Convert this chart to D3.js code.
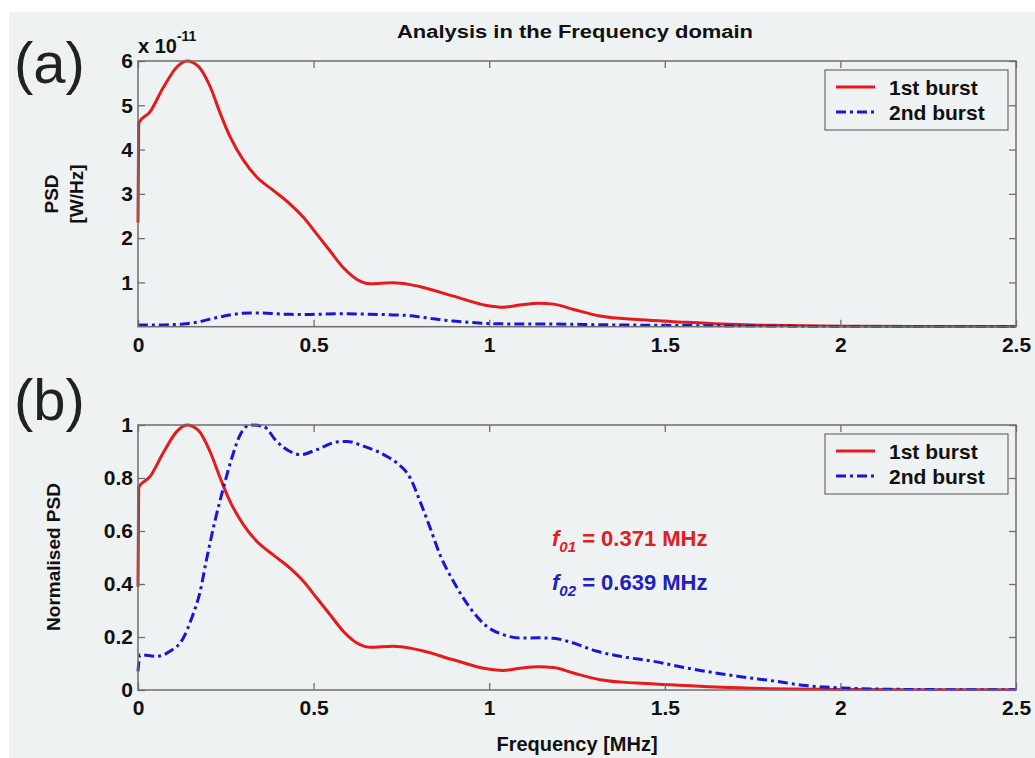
<!DOCTYPE html>
<html>
<head>
<meta charset="utf-8">
<script src="https://cdn.jsdelivr.net/npm/d3@7"></script>
<style>
  html, body { margin: 0; padding: 0; background: #ffffff; }
  svg { display: block; }
  text { font-family: "Liberation Sans", Arial, Helvetica, sans-serif; }
</style>
</head>
<body>
<svg id="chart" width="1035" height="758"></svg>
<script>
// ---------------- DATA ----------------
// Frequency axis [MHz]
const xTicks = [0, 0.5, 1, 1.5, 2, 2.5];
const yTicksA = [1, 2, 3, 4, 5, 6];           // x 10^-11 W/Hz
const yTicksB = [0, 0.2, 0.4, 0.6, 0.8, 1];
const yTickLabelsB = ["0", "0.2", "0.4", "0.6", "0.8", "1"];
const seriesNames = ["1st burst", "2nd burst"];

// 1st burst sample frequencies [MHz]
const freq1 = [0, 0.002, 0.034, 0.072, 0.11, 0.139, 0.172, 0.205, 0.234, 0.262, 0.30, 0.338,
  0.385, 0.433, 0.471, 0.509, 0.547, 0.585, 0.632, 0.661, 0.727, 0.775, 0.81, 0.898, 0.993,
  1.04, 1.088, 1.14, 1.183, 1.24, 1.316, 1.42, 1.516, 1.66, 1.8, 2.0, 2.2, 2.5];
// 1st burst PSD (panel a), units of 1e-11 W/Hz
const psd1 = [2.35, 4.6, 4.85, 5.4, 5.86, 6.0, 5.88, 5.43, 4.82, 4.29, 3.76, 3.38,
  3.08, 2.77, 2.47, 2.09, 1.71, 1.33, 1.03, 0.97, 0.99, 0.95, 0.89, 0.69, 0.48,
  0.44, 0.49, 0.53, 0.51, 0.39, 0.24, 0.16, 0.12, 0.06, 0.03, 0.012, 0.006, 0.003];
// 1st burst normalised PSD (panel b)
const norm1 = [0.39, 0.765, 0.805, 0.895, 0.975, 1.0, 0.98, 0.90, 0.80, 0.712, 0.624, 0.561,
  0.51, 0.46, 0.41, 0.347, 0.284, 0.221, 0.171, 0.161, 0.165, 0.158, 0.148, 0.114, 0.08,
  0.074, 0.082, 0.088, 0.085, 0.064, 0.039, 0.026, 0.02, 0.01, 0.005, 0.002, 0.001, 0.0005];

// 2nd burst sample frequencies [MHz]
const freq2 = [0, 0.006, 0.053, 0.091, 0.129, 0.153, 0.177, 0.196, 0.219, 0.243, 0.267, 0.291,
  0.319, 0.357, 0.395, 0.433, 0.462, 0.509, 0.566, 0.595, 0.642, 0.708, 0.737, 0.775, 0.803,
  0.832, 0.86, 0.898, 0.946, 0.993, 1.04, 1.088, 1.14, 1.183, 1.231, 1.307, 1.373, 1.468, 1.563,
  1.706, 1.81, 1.9, 2.0, 2.2, 2.5];
// 2nd burst PSD (panel a), units of 1e-11 W/Hz
const psd2 = [0.022, 0.041, 0.039, 0.045, 0.061, 0.084, 0.115, 0.154, 0.197, 0.236, 0.271, 0.299,
  0.31, 0.308, 0.291, 0.279, 0.275, 0.281, 0.29, 0.291, 0.285, 0.273, 0.266, 0.248, 0.221,
  0.189, 0.158, 0.127, 0.096, 0.074, 0.065, 0.061, 0.062, 0.061, 0.056, 0.045, 0.039, 0.033, 0.026,
  0.016, 0.011, 0.005, 0.002, 0.001, 0.0002];
// 2nd burst normalised PSD (panel b)
const norm2 = [0.07, 0.133, 0.127, 0.146, 0.196, 0.272, 0.372, 0.498, 0.637, 0.762, 0.875, 0.963,
  1.0, 0.995, 0.938, 0.90, 0.888, 0.907, 0.936, 0.938, 0.92, 0.882, 0.857, 0.80, 0.712,
  0.611, 0.51, 0.41, 0.309, 0.24, 0.209, 0.196, 0.197, 0.195, 0.181, 0.146, 0.127, 0.108, 0.083,
  0.052, 0.034, 0.017, 0.008, 0.002, 0.0005];

const annotations = [
  { base: "f", sub: "01", text: " = 0.371 MHz", series: 0 },
  { base: "f", sub: "02", text: " = 0.639 MHz", series: 1 }
];

// ---------------- STYLE / LAYOUT ----------------
const colors = ["#e51b1b", "#1717dc"];
const textColors = ["#dd2020", "#2020c0"];
const dashes = [null, "10,4,3,4"];
const bg = "#eff2f2";
const axisColor = "#6e6e6e";
const L = 138, R = 1016;
const panelA = { top: 61, bottom: 326.7 };
const panelB = { top: 425, bottom: 690 };

const svg = d3.select("#chart");
svg.append("rect").attr("width", 1035).attr("height", 758).attr("fill", "#ffffff");
svg.append("rect").attr("x", 9).attr("y", 12).attr("width", 1035 - 9).attr("height", 758 - 12).attr("fill", bg);

const x = d3.scaleLinear().domain([0, 2.5]).range([L, R]);

function drawPanel(p, id, yDomain, yTicks, yFormat, series, freqs) {
  const y = d3.scaleLinear().domain(yDomain).range([p.bottom, p.top]);
  const g = svg.append("g");
  g.append("rect").attr("x", L).attr("y", p.top).attr("width", R - L).attr("height", p.bottom - p.top)
    .attr("fill", bg);

  g.append("clipPath").attr("id", id).append("rect")
    .attr("x", L - 2).attr("y", p.top - 2).attr("width", R - L + 4).attr("height", p.bottom - p.top + 3);

  const line = d3.line().x(d => x(d[0])).y(d => y(d[1])).curve(d3.curveMonotoneX);
  const lines = g.append("g").attr("clip-path", `url(#${id})`);
  series.forEach((vals, i) => {
    const pts = freqs[i].map((f, k) => [f, vals[k]]);
    lines.append("path").datum(pts).attr("d", line)
      .attr("fill", "none").attr("stroke", colors[i]).attr("stroke-width", 3)
      .attr("stroke-linejoin", "round")
      .attr("stroke-dasharray", dashes[i]);
  });

  // axes (MATLAB box style, inward ticks)
  const ax = g.append("g").attr("transform", `translate(0,${p.bottom})`)
    .call(d3.axisBottom(x).tickValues(xTicks).tickFormat(d3.format("")).tickSize(-7).tickPadding(10));
  const axT = g.append("g").attr("transform", `translate(0,${p.top})`)
    .call(d3.axisTop(x).tickValues(xTicks).tickFormat("").tickSize(-7));
  const ay = g.append("g").attr("transform", `translate(${L},0)`)
    .call(d3.axisLeft(y).tickValues(yTicks).tickFormat(yFormat).tickSize(-7).tickPadding(5));
  const ayR = g.append("g").attr("transform", `translate(${R},0)`)
    .call(d3.axisRight(y).tickValues(yTicks).tickFormat("").tickSize(-7));
  [ax, axT, ay, ayR].forEach(a => {
    a.select(".domain").remove();
    a.selectAll("line").attr("stroke", axisColor).attr("stroke-width", 1.3);
    a.selectAll("text").attr("fill", "#111").attr("font-size", 21).attr("font-weight", "bold")
      .attr("font-family", '"Liberation Sans", Arial, sans-serif');
  });
  g.append("rect").attr("x", L).attr("y", p.top).attr("width", R - L).attr("height", p.bottom - p.top)
    .attr("fill", "none").attr("stroke", axisColor).attr("stroke-width", 1.5);

  // legend
  const lx = 825, ly = p.top + 9;
  const lg = g.append("g");
  lg.append("rect").attr("x", lx).attr("y", ly).attr("width", 183).attr("height", 60)
    .attr("fill", bg).attr("stroke", "#6a6a6a").attr("stroke-width", 1.2);
  seriesNames.forEach((name, i) => {
    const yy = ly + 17 + i * 25;
    lg.append("line").attr("x1", lx + 11).attr("x2", lx + 50).attr("y1", yy).attr("y2", yy)
      .attr("stroke", colors[i]).attr("stroke-width", 3).attr("stroke-dasharray", dashes[i]);
    lg.append("text").attr("x", lx + 64).attr("y", yy + 8).text(name)
      .attr("font-size", 21).attr("font-weight", "bold").attr("fill", "#111");
  });
  return y;
}

// Panel (a)
drawPanel(panelA, "clipA", [0, 6], yTicksA, d3.format("d"), [psd1, psd2], [freq1, freq2]);
// Panel (b)
drawPanel(panelB, "clipB", [0, 1], yTicksB, (d) => yTickLabelsB[yTicksB.indexOf(d)], [norm1, norm2], [freq1, freq2]);

// exponent label
const ex = svg.append("text").attr("x", 138).attr("y", 52.5).attr("font-weight", "bold").attr("fill", "#111");
ex.append("tspan").attr("font-size", 20).text("x 10");
ex.append("tspan").attr("font-size", 14).attr("dy", -12).text("-11");

// title
svg.append("text").attr("x", 575).attr("y", 38).attr("text-anchor", "middle")
  .attr("font-size", 18).attr("font-weight", "bold").attr("fill", "#111")
  .attr("textLength", 356).attr("lengthAdjust", "spacingAndGlyphs")
  .text("Analysis in the Frequency domain");

// panel letters
svg.append("text").attr("x", 14).attr("y", 83).attr("font-size", 58).attr("fill", "#222").text("(a)");
svg.append("text").attr("x", 14).attr("y", 420).attr("font-size", 58).attr("fill", "#222").text("(b)");

// y labels
const ylA = svg.append("text").attr("transform", "translate(58,194) rotate(-90)")
  .attr("text-anchor", "middle").attr("font-size", 19).attr("font-weight", "bold").attr("fill", "#111");
ylA.append("tspan").attr("x", 0).attr("dy", 0).text("PSD");
ylA.append("tspan").attr("x", 0).attr("dy", 25).text("[W/Hz]");
svg.append("text").attr("transform", "translate(60,557) rotate(-90)")
  .attr("text-anchor", "middle").attr("font-size", 19).attr("font-weight", "bold").attr("fill", "#111")
  .text("Normalised PSD");

// x label
svg.append("text").attr("x", 577).attr("y", 751).attr("text-anchor", "middle")
  .attr("font-size", 20).attr("font-weight", "bold").attr("fill", "#111").text("Frequency [MHz]");

// annotations
annotations.forEach((a, i) => {
  const t = svg.append("text").attr("x", 552).attr("y", 546 + i * 44)
    .attr("font-weight", "bold").attr("fill", textColors[a.series]).attr("font-size", 22);
  t.append("tspan").attr("font-style", "italic").text(a.base);
  t.append("tspan").attr("font-style", "italic").attr("font-size", 15).attr("dy", 6).text(a.sub);
  t.append("tspan").attr("dy", -6).text(a.text);
});
</script>
</body>
</html>
